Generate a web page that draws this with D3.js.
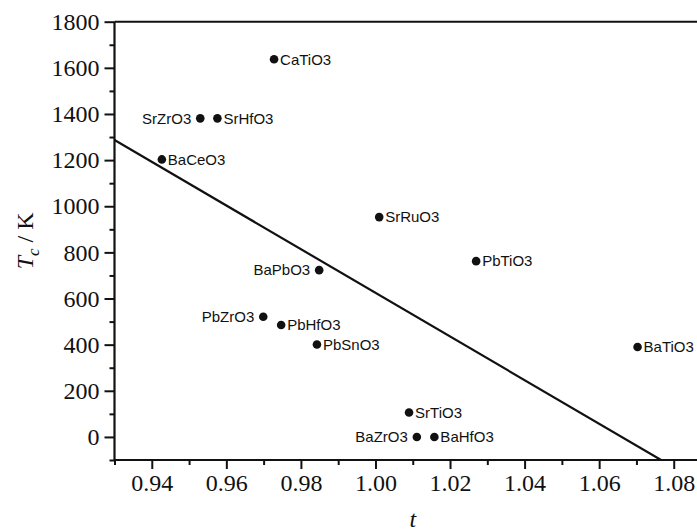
<!DOCTYPE html>
<html><head><meta charset="utf-8">
<script src="https://cdn.jsdelivr.net/npm/d3@7"></script>
<style>body{margin:0;background:#fff}svg{display:block}
.axis text{font-family:'Liberation Serif','Times New Roman',serif;font-size:24px;fill:#111}
</style>
</head><body>
<svg id="chart" width="697" height="531"></svg>
<script>
// Data
const compounds = ["CaTiO3","SrZrO3","SrHfO3","BaCeO3","BaPbO3","PbZrO3","PbHfO3","PbSnO3","SrRuO3","PbTiO3","BaTiO3","SrTiO3","BaZrO3","BaHfO3"];
const tValues   = [0.9728, 0.9530, 0.9576, 0.9427, 0.9849, 0.9699, 0.9747, 0.9843, 1.0010, 1.0270, 1.0703, 1.0090, 1.0111, 1.0158];
const tcValues  = [1637, 1381, 1381, 1203, 723, 521, 485, 401, 953, 762, 390, 106, 0, 0];
const labelSide = ["right","left","right","right","left","left","right","right","right","right","right","right","left","right"];
const lineT  = [0.93, 1.0766];
const lineTc = [1287, -100];
const xTicks = [0.94, 0.96, 0.98, 1.00, 1.02, 1.04, 1.06, 1.08];
const yTicks = [0, 200, 400, 600, 800, 1000, 1200, 1400, 1600, 1800];

const svg = d3.select("#chart");
const mLeft = 114.5, mRight = 711, mTop = 21.7, mBottom = 460;
const x = d3.scaleLinear().domain([0.93, 1.09]).range([mLeft, mRight]);
const y = d3.scaleLinear().domain([-100, 1800]).range([mBottom, mTop]);

svg.append("defs").append("clipPath").attr("id","clip")
  .append("rect").attr("x", mLeft).attr("y", mTop).attr("width", mRight-mLeft).attr("height", mBottom-mTop);

// regression line
svg.append("line")
  .attr("clip-path","url(#clip)")
  .attr("x1", x(lineT[0])).attr("y1", y(lineTc[0]))
  .attr("x2", x(lineT[1])).attr("y2", y(lineTc[1]))
  .attr("stroke","#111").attr("stroke-width",2.2);

// frame top / right
svg.append("line").attr("x1",mLeft).attr("x2",mRight).attr("y1",mTop).attr("y2",mTop)
  .attr("stroke","#111").attr("stroke-width",2);
svg.append("line").attr("x1",mRight).attr("x2",mRight).attr("y1",mTop).attr("y2",mBottom)
  .attr("stroke","#111").attr("stroke-width",2);

// axes
const serif = "'Liberation Serif','Times New Roman',serif";
const xAxis = d3.axisBottom(x).tickValues(xTicks).tickFormat(d3.format(".2f")).tickSize(9).tickPadding(5);
const xMinorVals = d3.range(0, 17).map(i => 0.93 + i*0.01).filter(v => !xTicks.some(t => Math.abs(t-v)<1e-6));
const xMinor = d3.axisBottom(x).tickValues(xMinorVals).tickSize(5).tickFormat("");
const yAxis = d3.axisLeft(y).tickValues(yTicks).tickFormat(d3.format("d")).tickSize(10).tickPadding(5);
const yMinor = d3.axisLeft(y).tickValues(d3.range(-100, 1801, 200)).tickSize(5).tickFormat("");

function styleAxis(g){
  g.attr("class","axis").attr("font-family", serif).attr("font-size", 24);
  g.select(".domain").attr("stroke","#111").attr("stroke-width",2.2);
  g.selectAll(".tick line").attr("stroke","#111").attr("stroke-width",2);
  g.selectAll(".tick text").style("font-family", serif).style("font-size","24px").style("fill","#111");
}
svg.append("g").attr("transform",`translate(0,${mBottom})`).call(xMinor).call(styleAxis).select(".domain").remove();
svg.append("g").attr("transform",`translate(${mLeft},0)`).call(yMinor).call(styleAxis).select(".domain").remove();
svg.append("g").attr("transform",`translate(0,${mBottom})`).call(xAxis).call(styleAxis)
  .select(".domain").attr("d", `M${mLeft},0H${mRight}`);
svg.append("g").attr("transform",`translate(${mLeft},0)`).call(yAxis).call(styleAxis)
  .select(".domain").attr("d", `M0,${mTop}V${mBottom}`);

// axis titles
svg.append("text").attr("x", (mLeft+mRight)/2).attr("y", 527)
  .attr("text-anchor","middle").attr("font-family",serif).attr("font-style","italic")
  .attr("font-size",24).attr("fill","#111").text("t");
const yt = svg.append("text").attr("transform",`translate(33,${(mTop+mBottom)/2}) rotate(-90)`)
  .attr("text-anchor","middle").attr("font-family",serif).attr("font-size",24).attr("fill","#111");
yt.append("tspan").attr("font-style","italic").text("T");
yt.append("tspan").attr("font-style","italic").attr("font-size",17).attr("dy",6).text("c");
yt.append("tspan").attr("dy",-6).text(" / K");

// points
const data = compounds.map((c,i)=>({name:c, t:tValues[i], tc:tcValues[i], side:labelSide[i]}));
const pts = svg.append("g").selectAll("g").data(data).join("g")
  .attr("transform", d => `translate(${x(d.t)},${y(d.tc)})`);
pts.append("circle").attr("r",4.3).attr("fill","#111");
pts.append("text")
  .attr("x", d => d.side === "right" ? 6 : -9)
  .attr("dy","0.35em")
  .attr("text-anchor", d => d.side === "right" ? "start" : "end")
  .attr("font-family","'Liberation Sans',Arial,sans-serif").attr("font-size",15).attr("fill","#111")
  .text(d => d.name);
</script>
</body></html>
